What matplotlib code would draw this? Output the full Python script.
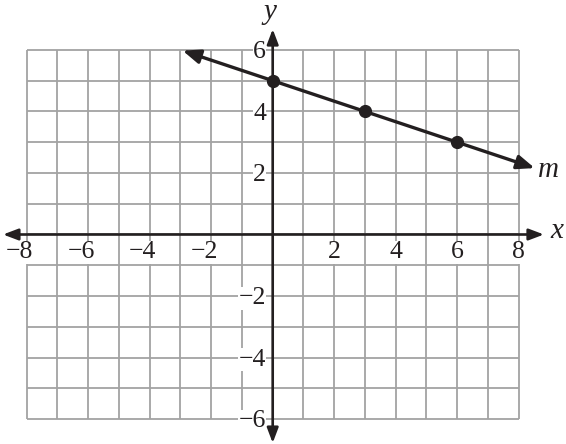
import matplotlib
matplotlib.use("Agg")
import matplotlib.pyplot as plt

# ---- data ----
grid_x = list(range(-8, 9))
grid_y = list(range(-6, 7))
xtick_vals = [-8, -6, -4, -2, 2, 4, 6, 8]
ytick_vals = [6, 4, 2, -2, -4, -6]
point_x = [0, 3, 6]
point_y = [5, 4, 3]
line_x = [-2.93, 8.52]
line_y = [5.98, 2.16]
line_label = "m"

SERIF = ["Liberation Serif", "DejaVu Serif"]

fig = plt.figure(figsize=(5.66, 4.44), dpi=100)
ax = fig.add_axes([0, 0, 1, 1])
ax.set_xlim(-8.868, 9.538)
ax.set_ylim(-6.813, 7.626)
ax.axis("off")

gcol = "#a3a3a3"
for gx in grid_x:
    ax.plot([gx, gx], [grid_y[0], grid_y[-1]], color=gcol, lw=1.3, zorder=1,
            solid_capstyle="butt")
for gy in grid_y:
    ax.plot([grid_x[0], grid_x[-1]], [gy, gy], color=gcol, lw=1.3, zorder=1,
            solid_capstyle="butt")

FS = 18.5
box = dict(facecolor="white", edgecolor="none", pad=0.3)
for v in xtick_vals:
    lab = f"\u2212{abs(v)}" if v < 0 else str(v)
    if v < 0:
        ax.text(v + 0.22, -0.57, lab, ha="right", va="center", fontsize=FS,
                family=SERIF, color="#231f20", bbox=box, zorder=2)
    else:
        ax.text(v, -0.57, lab, ha="center", va="center", fontsize=FS,
                family=SERIF, color="#231f20", bbox=box, zorder=2)
for v in ytick_vals:
    lab = f"\u2212{abs(v)}" if v < 0 else str(v)
    ax.text(-0.22, v - 0.07, lab, ha="right", va="center", fontsize=FS,
            family=SERIF, color="#231f20", bbox=box, zorder=2)

acol = "#231f20"
aprops = dict(arrowstyle="<|-|>,head_length=0.9,head_width=0.34", color=acol,
              lw=1.9, shrinkA=0, shrinkB=0, mutation_scale=10)
ax.annotate("", xy=(8.82, 0), xytext=(-8.77, 0), arrowprops=aprops, zorder=3)
ax.annotate("", xy=(0, 6.68), xytext=(0, -6.78), arrowprops=aprops, zorder=3)

lprops = dict(arrowstyle="<|-|>,head_length=1.05,head_width=0.42", color=acol,
              lw=2.4, shrinkA=0, shrinkB=0, mutation_scale=10)
ax.annotate("", xy=(line_x[1], line_y[1]), xytext=(line_x[0], line_y[0]),
            arrowprops=lprops, zorder=4)
ax.plot(point_x, point_y, "o", color=acol, markersize=8.5, zorder=5)

ax.text(-0.09, 7.22, "y", ha="center", va="center", fontsize=21,
        family=SERIF, style="italic", color=acol)
ax.text(9.25, 0.11, "x", ha="center", va="center", fontsize=21,
        family=SERIF, style="italic", color=acol)
ax.text(8.96, 2.1, line_label, ha="center", va="center", fontsize=21,
        family=SERIF, style="italic", color=acol)

fig.savefig("out.png", dpi=100)
